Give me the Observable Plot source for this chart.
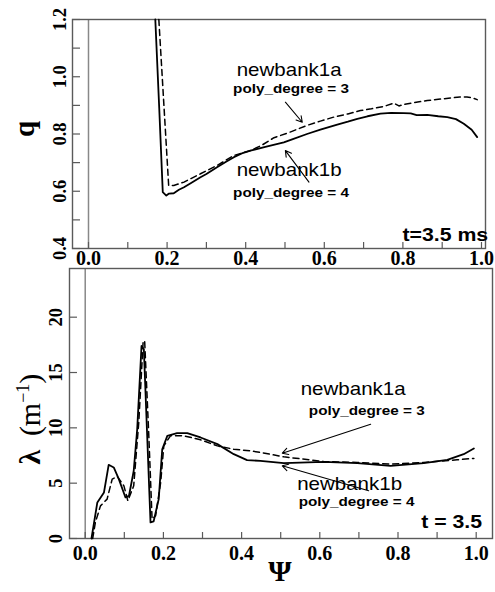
<!DOCTYPE html>
<html><head><meta charset="utf-8">
<script src="https://cdn.jsdelivr.net/npm/d3@7"></script>
<script src="https://cdn.jsdelivr.net/npm/@observablehq/plot@0.6"></script>
<style>
body{margin:0;background:#fff}
#chart{position:relative;width:495px;height:592px;overflow:hidden;background:#fff}
#chart svg{position:absolute;left:0}
</style></head><body><div id="chart"></div>
<script>
// ---- data: top panel (q) ----
const psiTopA = [0.179,0.204,0.217,0.243,0.285,0.327,0.370,0.412,0.440,0.472,0.510,0.556,0.590,0.624,0.660,0.692,0.720,0.751,0.777,0.790,0.802,0.830,0.862,0.890,0.921,0.945,0.963,0.975,0.989];
const qTopA   = [1.20,0.620,0.620,0.632,0.661,0.690,0.725,0.742,0.760,0.787,0.805,0.830,0.845,0.859,0.870,0.882,0.888,0.896,0.908,0.898,0.903,0.910,0.917,0.921,0.926,0.929,0.929,0.927,0.920];
const psiTopB = [0.170,0.180,0.189,0.198,0.205,0.217,0.230,0.243,0.260,0.285,0.300,0.327,0.350,0.370,0.390,0.412,0.450,0.497,0.520,0.556,0.590,0.633,0.660,0.684,0.710,0.743,0.770,0.802,0.820,0.835,0.862,0.890,0.913,0.935,0.955,0.975,0.989];
const qTopB   = [1.20,0.89,0.597,0.585,0.592,0.593,0.605,0.614,0.628,0.649,0.660,0.684,0.703,0.719,0.732,0.742,0.755,0.771,0.782,0.800,0.815,0.833,0.843,0.853,0.862,0.871,0.874,0.873,0.872,0.866,0.867,0.862,0.859,0.852,0.836,0.815,0.789];
// ---- data: bottom panel (lambda) ----
const psiBotA = [0.019,0.026,0.039,0.056,0.069,0.082,0.099,0.109,0.124,0.137,0.148,0.152,0.163,0.171,0.180,0.193,0.201,0.218,0.252,0.295,0.338,0.380,0.423,0.448,0.508,0.610,0.696,0.781,0.866,0.951,0.994];
const lamBotA = [0,1.45,2.95,3.56,5.37,5.61,4.76,3.41,4.76,10.5,17.7,17.9,9.0,1.75,2.05,5.07,8.37,9.28,9.28,8.92,8.37,8.07,7.92,7.78,7.38,6.96,6.87,6.72,6.87,7.11,7.24];
const psiBotB = [0.016,0.031,0.048,0.060,0.073,0.086,0.103,0.112,0.124,0.133,0.144,0.150,0.167,0.175,0.188,0.197,0.210,0.235,0.261,0.295,0.338,0.380,0.414,0.448,0.508,0.610,0.696,0.781,0.866,0.926,0.968,0.994];
const lamBotB = [0,3.26,4.16,6.66,6.42,5.37,3.71,3.86,6.1,9.9,17.4,17.1,1.45,1.55,3.56,8.07,9.28,9.52,9.52,9.13,8.53,7.62,7.08,7.02,6.81,6.93,6.81,6.57,6.81,7.11,7.62,8.14];
// ---- ticks ----
const xTicks  = [0,0.1,0.2,0.3,0.4,0.5,0.6,0.7,0.8,0.9,1.0];
const xLabels = [0,0.2,0.4,0.6,0.8,1.0];
const qTicks  = [0.4,0.5,0.6,0.7,0.8,0.9,1.0,1.1,1.2];
const qLabels = [0.4,0.6,0.8,1.0,1.2];
const lamTicks  = [0,5,10,15,20];
const lamLabels = [0,5,10,15,20];
// ---- annotations ----
const notesTop = [
  {text:"newbank1a", kind:"name", x:0.377, y:1.0225},
  {text:"poly_degree = 3", kind:"deg", x:0.368, y:0.958},
  {text:"newbank1b", kind:"name", x:0.377, y:0.676},
  {text:"poly_degree = 4", kind:"deg", x:0.368, y:0.594},
  {text:"t=3.5 ms", kind:"time", x:1.017, y:0.449}
];
const arrowsTop = [
  {x1:0.501, y1:0.911, x2:0.544, y2:0.841},
  {x1:0.561, y1:0.632, x2:0.501, y2:0.742}
];
const notesBot = [
  {text:"newbank1a", kind:"name", x:0.551, y:13.5},
  {text:"poly_degree = 3", kind:"deg", x:0.572, y:11.54},
  {text:"newbank1b", kind:"name", x:0.542, y:4.93},
  {text:"poly_degree = 4", kind:"deg", x:0.546, y:3.34},
  {text:"t = 3.5", kind:"time", x:1.015, y:1.54}
];
const arrowsBot = [
  {x1:0.730, y1:10.33, x2:0.504, y2:7.71},
  {x1:0.725, y1:4.31, x2:0.504, y2:6.57}
];

const serif = "'Liberation Serif','Times New Roman',serif";
const sans = "'Liberation Sans',Arial,Helvetica,sans-serif";
const INK = "#000", AX = "#5a5a5a";
const kindStyle = {
  name: {fontSize: 19, fontWeight: "normal", k: 1.08},
  deg:  {fontSize: 13.5, fontWeight: "bold", k: 1.13},
  time: {fontSize: 19, fontWeight: "bold", k: 1.12}
};
const zip = (xs, ys) => xs.map((x, i) => ({psi: x, v: ys[i]}));

function panel(o) {
  const innerH = o.height - o.mt - o.mb, innerW = o.width - o.ml - o.mr;
  return Plot.plot({
    width: o.width, height: o.height,
    marginTop: o.mt, marginBottom: o.mb, marginLeft: o.ml, marginRight: o.mr,
    style: {background: "transparent", fontFamily: serif, overflow: "visible"},
    x: {domain: o.xDomain},
    y: {domain: o.yDomain, axis: null},
    marks: [
      Plot.ruleX([0], {stroke: "#888", strokeWidth: 1.5}),
      Plot.ruleX(xTicks, {x: d => d, stroke: AX, strokeWidth: 1.2, insetTop: innerH - 6}),
      Plot.ruleY(o.yTicks, {y: d => d, stroke: AX, strokeWidth: 1.2, insetRight: innerW - 8}),
      Plot.frame({stroke: AX, strokeWidth: 1.4}),
      Plot.axisX(xLabels, {tickSize: 0, tickPadding: o.xPad, tickFormat: d3.format(".1f"),
        fontSize: 20, fontWeight: "bold", fontFamily: serif, fill: INK}),
      Plot.text(o.yLabels, {y: d => d, frameAnchor: "left", textAnchor: "middle", lineAnchor: "middle",
        dx: o.yDx, rotate: -90,
        text: o.yFmt, fontSize: 18.5, fontWeight: "bold", fontFamily: serif, fill: INK}),
      Plot.line(o.seriesA, {x: "psi", y: "v", stroke: INK, strokeWidth: 1.5, strokeDasharray: "6,4"}),
      Plot.line(o.seriesB, {x: "psi", y: "v", stroke: INK, strokeWidth: 1.8}),
      Plot.arrow(o.arrows, {x1: "x1", y1: "y1", x2: "x2", y2: "y2", stroke: INK, strokeWidth: 1.1, headLength: 9}),
      ...o.notes.map(n => Plot.text([n], {x: "x", y: "y", text: "text",
        textAnchor: n.kind === "time" ? "end" : "start",
        fontFamily: sans, fontSize: kindStyle[n.kind].fontSize,
        fontWeight: kindStyle[n.kind].fontWeight, fill: INK}))
    ]
  });
}

const topSvg = panel({
  width: 495, height: 267, mt: 19, mb: 19, ml: 72, mr: 10,
  xDomain: [-0.0407, 1.0102], yDomain: [0.4, 1.2],
  yTicks: qTicks, yLabels: qLabels, yFmt: d3.format(".1f"), yDx: -12, xPad: 2,
  seriesA: zip(psiTopA, qTopA), seriesB: zip(psiTopB, qTopB),
  notes: notesTop, arrows: arrowsTop
});
const botSvg = panel({
  width: 495, height: 325, mt: 1, mb: 54, ml: 69, mr: 3,
  xDomain: [-0.0402, 1.0417], yDomain: [0, 24.4],
  yTicks: lamTicks, yLabels: lamLabels, yFmt: d3.format("d"), yDx: -13, xPad: 7,
  seriesA: zip(psiBotA, lamBotA), seriesB: zip(psiBotB, lamBotB),
  notes: notesBot, arrows: arrowsBot
});
const chart = document.getElementById("chart");
topSvg.style.top = "0px";
botSvg.style.top = "267px";
chart.appendChild(topSvg);
chart.appendChild(botSvg);

// axis titles
d3.select(topSvg).append("text")
  .attr("transform", "translate(33.5,129) rotate(-90)")
  .attr("text-anchor", "middle").attr("font-family", serif)
  .attr("font-size", 29).attr("font-weight", "bold").attr("fill", INK).text("q");
const lt = d3.select(botSvg).append("text")
  .attr("transform", "translate(40,152) rotate(-90)")
  .attr("text-anchor", "middle").attr("font-family", serif)
  .attr("font-size", 30).attr("fill", INK);
lt.append("tspan").attr("font-weight", "bold").text("λ");
lt.append("tspan").text("\u2009 (m");
lt.append("tspan").attr("font-size", 18).attr("dy", -11).text("−1");
lt.append("tspan").attr("dy", 11).text(")");
d3.select(botSvg).append("text")
  .attr("x", 280).attr("y", 314)
  .attr("text-anchor", "middle").attr("font-family", serif)
  .attr("font-size", 30).attr("font-weight", "bold").attr("fill", INK).text("Ψ");

// horizontal stretch of annotation labels to match the reference's wide lettering
function stretch(svg, notes) {
  const map = new Map(notes.map(n => [n.text, kindStyle[n.kind].k]));
  d3.select(svg).selectAll("text").each(function() {
    const k = map.get(this.textContent);
    if (k) {
      const L = this.getComputedTextLength();
      this.setAttribute("textLength", (L * k).toFixed(1));
      this.setAttribute("lengthAdjust", "spacingAndGlyphs");
    }
  });
}
stretch(topSvg, notesTop);
stretch(botSvg, notesBot);
</script>
</body></html>
